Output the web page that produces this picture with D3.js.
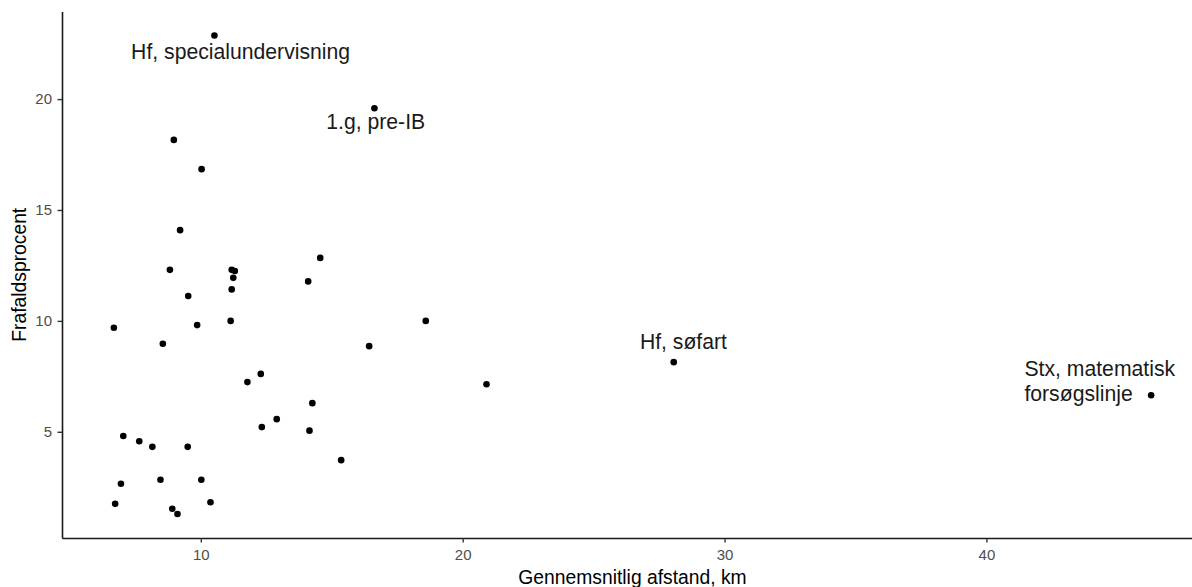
<!DOCTYPE html>
<html>
<head>
<meta charset="utf-8">
<script src="https://cdn.jsdelivr.net/npm/d3@7"></script>
<style>
  body { margin: 0; background: #fff; }
  text { font-family: "Liberation Sans", Arial, sans-serif; }
</style>
</head>
<body>
<svg id="chart" width="1192" height="587"></svg>
<script>
// gennemsnitlig afstand (km) og frafaldsprocent pr. uddannelse
const afstand = [10.52, 16.63, 8.97, 10.03, 9.21, 8.82, 11.18, 11.30, 11.24, 11.18,
    14.56, 14.10, 9.52, 6.68, 9.86, 11.14, 8.55, 18.59, 16.43, 12.29,
    11.78, 14.26, 12.90, 12.33, 14.15, 7.04, 7.65, 8.15, 9.50, 15.36,
    6.95, 8.46, 10.02, 6.73, 10.37, 8.91, 9.11, 20.91, 28.06, 46.29];
const frafald = [22.87, 19.59, 18.16, 16.84, 14.09, 12.30, 12.30, 12.25, 11.94, 11.42,
    12.84, 11.78, 11.12, 9.69, 9.81, 10.00, 8.97, 10.00, 8.86, 7.61,
    7.24, 6.29, 5.57, 5.21, 5.05, 4.81, 4.57, 4.32, 4.32, 3.72,
    2.66, 2.84, 2.84, 1.75, 1.82, 1.53, 1.29, 7.14, 8.14, 6.65];

// annotationer (placeret i dataenheder)
const labelTekst = [["Hf, specialundervisning"], ["1.g, pre-IB"], ["Hf, søfart"], ["Stx, matematisk", "forsøgslinje"]];
const labelX = [11.52, 16.68, 28.43, 41.45];
const labelY = [22.13, 18.98, 9.07, 7.86];

const xTicks = [10, 20, 30, 40];
const yTicks = [5, 10, 15, 20];

const svg = d3.select('#chart');

// ggplot-agtig udvidelse: 5% på hver side
function expand(ext) {
    const d = (ext[1] - ext[0]) * 0.05;
    return [ext[0] - d, ext[1] + d];
}

const x = d3.scaleLinear()
    .domain(expand(d3.extent(afstand)))
    .range([62, 1203]);

const y = d3.scaleLinear()
    .domain(expand(d3.extent(frafald)))
    .range([538, 11.5]);

svg.append('rect')
    .attr('width', 1192)
    .attr('height', 587)
    .attr('fill', '#fff');

// akser
const xAxis = svg.append('g')
    .attr('transform', 'translate(0,538)')
    .call(d3.axisBottom(x).tickValues(xTicks).tickSize(4.5).tickSizeOuter(0).tickPadding(7));

const yAxis = svg.append('g')
    .attr('transform', 'translate(62,0)')
    .call(d3.axisLeft(y).tickValues(yTicks).tickSize(4.5).tickSizeOuter(0).tickPadding(5.5));

[xAxis, yAxis].forEach(function (g) {
    g.select('.domain').attr('stroke', '#1a1a1a').attr('stroke-width', 1.6);
    g.selectAll('.tick line').attr('stroke', '#333').attr('stroke-width', 1.4);
    g.selectAll('.tick text')
        .attr('fill', '#4d4d4d')
        .style('font-size', '15px')
        .style('font-family', '"Liberation Sans", Arial, sans-serif');
});

// aksetitler
svg.append('text')
    .attr('x', (x.range()[0] + x.range()[1]) / 2)
    .attr('y', 584)
    .attr('text-anchor', 'middle')
    .style('font-size', '19.3px')
    .attr('fill', '#000')
    .text('Gennemsnitlig afstand, km');

svg.append('text')
    .attr('transform', 'translate(26,' + (y.range()[0] + y.range()[1]) / 2 + ') rotate(-90)')
    .attr('text-anchor', 'middle')
    .style('font-size', '19.3px')
    .attr('fill', '#000')
    .text('Frafaldsprocent');

// punkter
svg.append('g')
    .selectAll('circle')
    .data(afstand)
    .enter().append('circle')
    .attr('cx', function (d) { return x(d); })
    .attr('cy', function (d, i) { return y(frafald[i]); })
    .attr('r', 3.3)
    .attr('fill', '#000');

// labels
const labels = svg.append('g')
    .selectAll('text')
    .data(labelTekst)
    .enter().append('text')
    .attr('x', function (d, i) { return x(labelX[i]); })
    .attr('y', function (d, i) { return y(labelY[i]); })
    .attr('text-anchor', function (d) { return d.length > 1 ? 'start' : 'middle'; })
    .style('font-size', '21.2px')
    .attr('fill', '#1a1a1a');

labels.selectAll('tspan')
    .data(function (d) { return d; })
    .enter().append('tspan')
    .attr('x', function () { return this.parentNode.getAttribute('x'); })
    .attr('dy', function (d, i) { return i === 0 ? '0.35em' : '25px'; })
    .text(function (d) { return d; });
</script>
</body>
</html>
